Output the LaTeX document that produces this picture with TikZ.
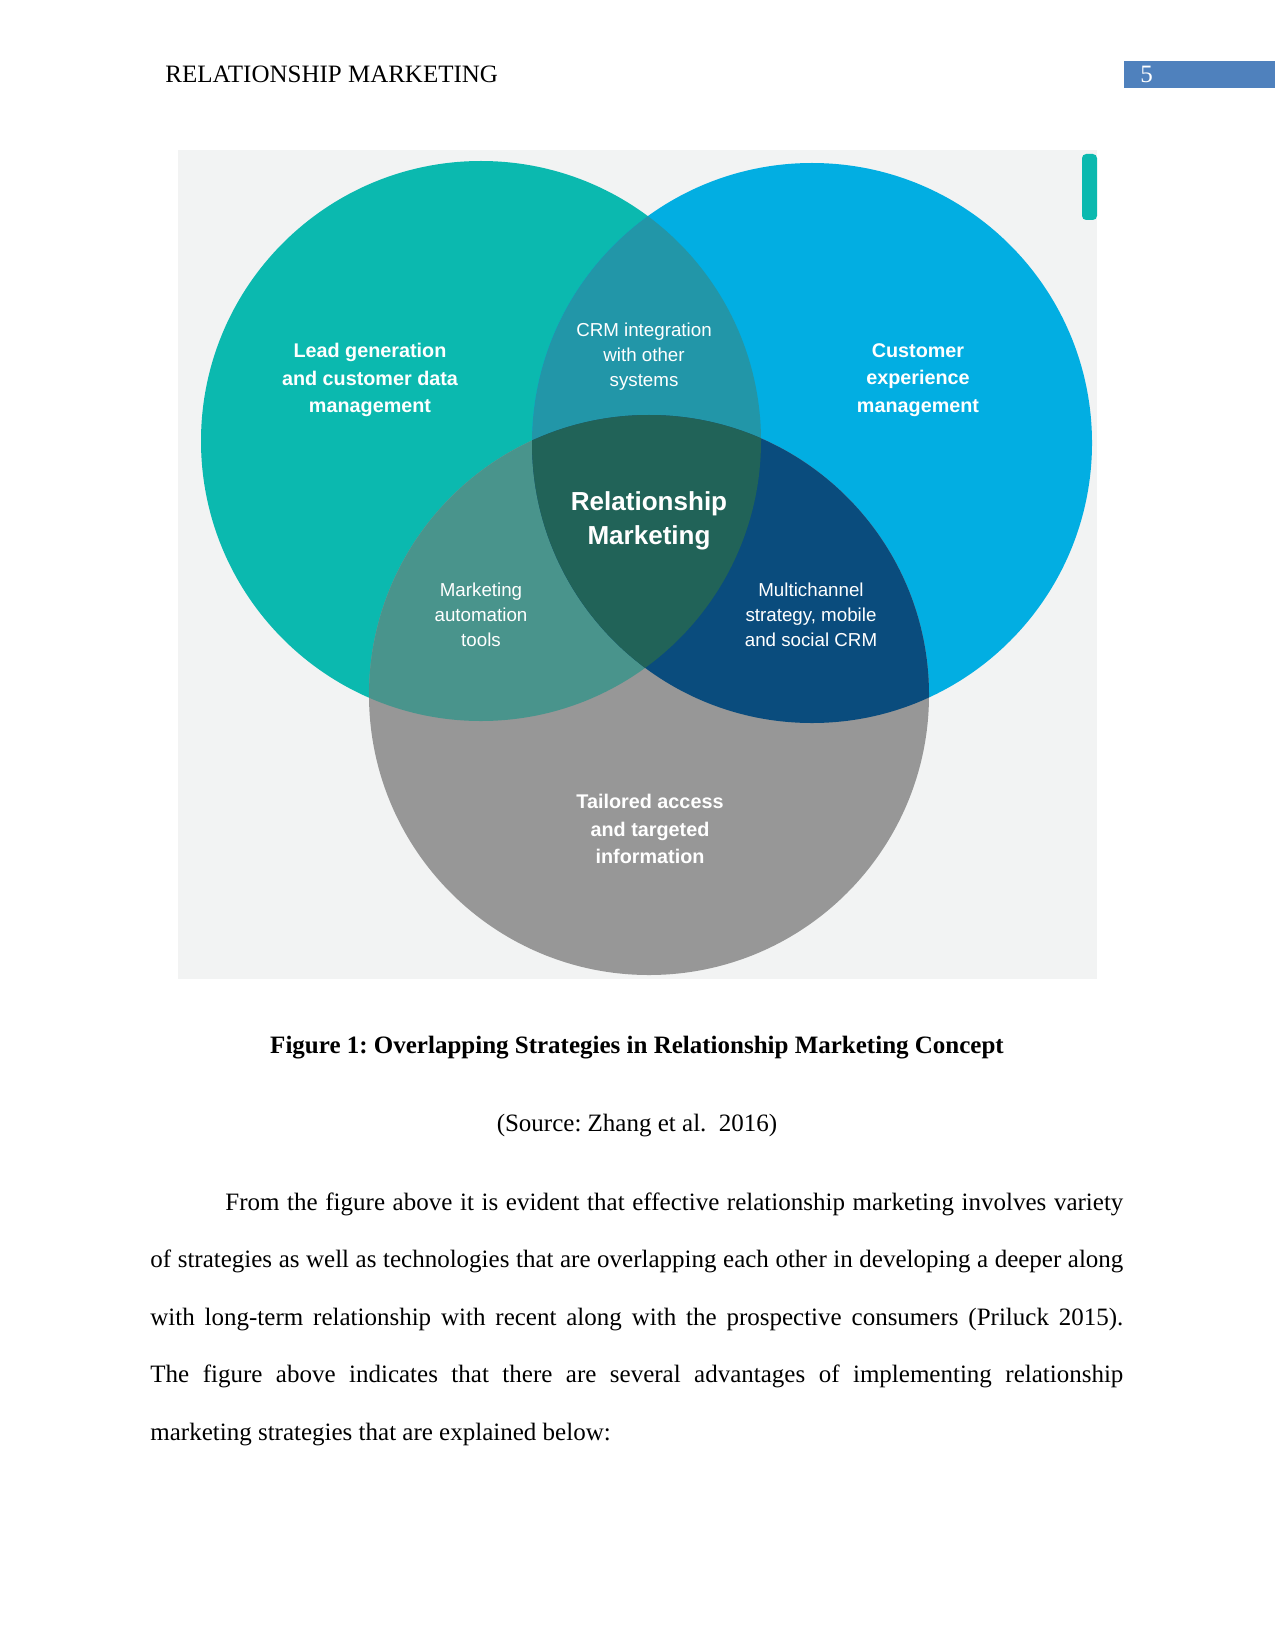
\documentclass[tikz,border=0pt]{standalone}
\usepackage{fontspec}
\setmainfont{Liberation Serif}
\newfontfamily\vennfont{Liberation Sans}
\definecolor{figbg}{HTML}{F2F3F3}
\definecolor{cteal}{HTML}{0BB9AF}
\definecolor{cblue}{HTML}{02AEE2}
\definecolor{cgray}{HTML}{979797}
\definecolor{ctb}{HTML}{2296A8}
\definecolor{ctg}{HTML}{49948C}
\definecolor{cbg}{HTML}{0A4C7D}
\definecolor{ccen}{HTML}{216358}
\definecolor{pgblue}{HTML}{4F81BD}
\frenchspacing
\tikzset{
  labb/.style={text=white, align=center, inner sep=0pt, font=\vennfont\bfseries\fontsize{9.5}{13.1}\selectfont},
  labr/.style={text=white, align=center, inner sep=0pt, font=\vennfont\fontsize{9}{12}\selectfont},
  labc/.style={text=white, align=center, inner sep=0pt, font=\vennfont\bfseries\fontsize{12.5}{16.6}\selectfont},
  serif/.style={inner sep=0pt, font=\fontsize{12}{14}\selectfont}
}
\begin{document}
\begin{tikzpicture}[x=0.48pt,y=-0.48pt]
\useasboundingbox (0,0) rectangle (1275,1651);
\fill[white] (0,0) rectangle (1275,1651);
% header
\node[serif, anchor=base west] (head) at (165,83) {RELATIONSHIP MARKETING};
\fill[pgblue] (1124,61) rectangle (1275,88);
\node[serif, anchor=base west, text=white] (pnum) at (1140,83) {5};
% figure background
\fill[figbg] (178,150) rectangle (1097,979);
\fill[cteal, rounded corners=2pt] (1097,154) -- (1082,154) -- (1082,220) -- (1097,220) -- cycle;
% circles
\coordinate (T) at (481,441);
\coordinate (B) at (812,443);
\coordinate (G) at (649,695);
\def\R{134.4pt}
\fill[cteal] (T) circle[radius=\R];
\fill[cblue] (B) circle[radius=\R];
\fill[cgray] (G) circle[radius=\R];
\begin{scope}
  \clip (T) circle[radius=\R];
  \fill[ctb] (B) circle[radius=\R];
  \fill[ctg] (G) circle[radius=\R];
\end{scope}
\begin{scope}
  \clip (B) circle[radius=\R];
  \fill[cbg] (G) circle[radius=\R];
\end{scope}
\begin{scope}
  \clip (T) circle[radius=\R];
  \clip (B) circle[radius=\R];
  \fill[ccen] (G) circle[radius=\R];
\end{scope}
% labels
\node[labb] (lead) at (370,380) {Lead generation\\and customer data\\management};
\node[labb] (cust) at (918,380) {Customer\\experience\\management};
\node[labr] (crm) at (644,357) {CRM integration\\with other\\systems};
\node[labc] (rm) at (649,521) {Relationship\\Marketing};
\node[labr] (mat) at (481,615) {Marketing\\automation\\tools};
\node[labr] (multi) at (811,615) {Multichannel\\strategy, mobile\\and social CRM};
\node[labb] (tail) at (650,829) {Tailored access\\and targeted\\information};
% caption
\node[serif, anchor=base, font=\bfseries\fontsize{12}{14}\selectfont] (cap) at (637,1053) {Figure 1: Overlapping Strategies in Relationship Marketing Concept};
\node[serif, anchor=base] (src) at (637,1131) {(Source: Zhang et al.\ \ 2016)};
% paragraph
\node[anchor=base west, inner sep=0pt, text width=467pt, align=justify, font=\fontsize{12}{27.6}\selectfont] (para) at (150,1210)
{\hspace*{36pt}From the figure above it is evident that effective relationship marketing involves variety\linebreak
of strategies as well as technologies that are overlapping each other in developing a deeper along\linebreak
with long-term relationship with recent along with the prospective consumers (Priluck 2015).\linebreak
The figure above indicates that there are several advantages of implementing relationship\linebreak
marketing strategies that are explained below:};
\end{tikzpicture}
\end{document}
